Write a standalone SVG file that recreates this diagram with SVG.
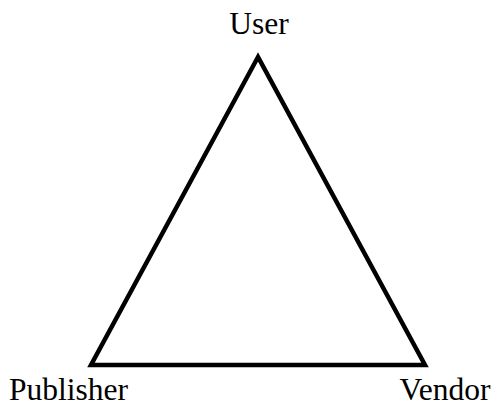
<svg xmlns="http://www.w3.org/2000/svg" width="496" height="408" viewBox="0 0 496 408">
<style>
.lbl{font-family:"Liberation Serif","Times New Roman",serif;font-size:31.5px;fill:#000;text-anchor:middle}
.edge{fill:none;stroke:#000;stroke-width:4.5;stroke-linejoin:miter;stroke-miterlimit:10}
</style>
<rect width="496" height="408" fill="#fff"/>
<g id="connectors">
<polygon class="edge" points="258,57 91,365 425,365"/>
</g>
<g id="user"><text class="lbl" x="259" y="34">User</text></g>
<g id="publisher"><text class="lbl" x="68.5" y="400">Publisher</text></g>
<g id="vendor"><text class="lbl" x="445" y="400">Vendor</text></g>
</svg>
